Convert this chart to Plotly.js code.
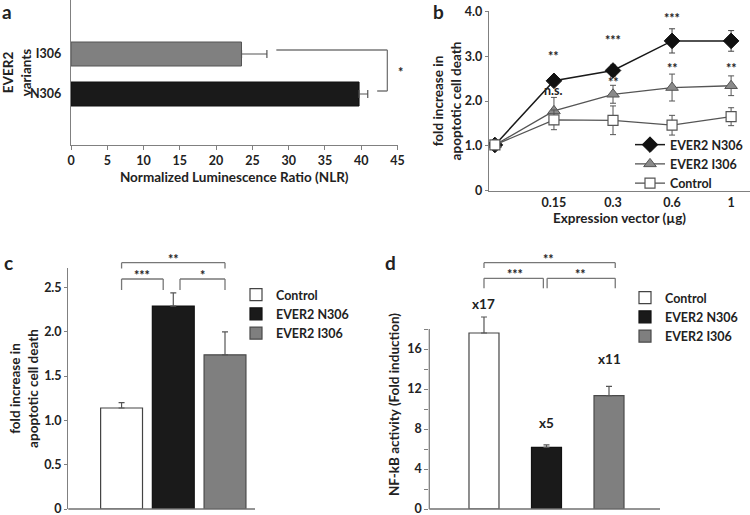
<!DOCTYPE html>
<html>
<head>
<meta charset="utf-8">
<script src="https://cdn.plot.ly/plotly-3.0.1.min.js"></script>
<style>
  body { margin: 0; background: #fff; }
  #fig { width: 750px; height: 515px; }
</style>
</head>
<body>
<div id="fig"></div>
<script>
// --- panel a: luminescence ratio
const variants = ["N306", "I306"];
const nlr = [39.7, 23.5];
const nlrErr = [1.2, 3.5];

// --- panel b: dose response
const doses = ["0", "0.15", "0.3", "0.6", "1"];
const doseLabels = ["", "0.15", "0.3", "0.6", "1"];
const deathN306 = [1.02, 2.45, 2.68, 3.34, 3.34];
const errN306 = [0.05, 0.1, 0.12, 0.27, 0.23];
const deathI306 = [1.02, 1.78, 2.15, 2.3, 2.34];
const errI306 = [0.05, 0.3, 0.2, 0.3, 0.22];
const deathCtrl = [1.02, 1.58, 1.57, 1.46, 1.65];
const errCtrl = [0.05, 0.22, 0.32, 0.22, 0.2];
const sigN306 = ["", "**", "***", "***", "***"];
const sigI306 = ["", "n.s.", "**", "**", "**"];

// --- panels c and d
const groups = ["Control", "EVER2 N306", "EVER2 I306"];
const deathC = [1.14, 2.29, 1.74];
const deathCErr = [0.06, 0.15, 0.26];
const nfkb = [17.6, 6.17, 11.33];
const nfkbErr = [1.6, 0.25, 0.93];
const foldLabels = ["x17", "x5", "x11"];

const fillCol = ["#ffffff", "#1a1a1a", "#7f7f7f"];
const edgeCol = ["#444444", "#111111", "#4a4a4a"];

const FONT = "Lato, 'Open Sans', sans-serif";
const txt = "#222";
const axCol = "#808080";

const traces = [];

// a
traces.push({
  type: "bar", orientation: "h", y: variants, x: nlr,
  xaxis: "x", yaxis: "y", width: 0.6, showlegend: false,
  marker: { color: ["#1a1a1a", "#808080"], line: { color: ["#111", "#555"], width: 1 } },
  error_x: { type: "data", symmetric: false, array: nlrErr, arrayminus: [0, 0], color: "#555", thickness: 1.2, width: 4 }
});

// b
traces.push({
  type: "scatter", mode: "lines+markers", x: doses, y: deathN306, name: "EVER2 N306",
  xaxis: "x2", yaxis: "y2", legend: "legend",
  line: { color: "#1a1a1a", width: 1.5 },
  marker: { symbol: "diamond", size: 12, color: "#111", line: { color: "#111", width: 1 } },
  error_y: { type: "data", array: errN306, color: "#444", thickness: 1, width: 3 }
});
traces.push({
  type: "scatter", mode: "lines+markers", x: doses, y: deathI306, name: "EVER2 I306",
  xaxis: "x2", yaxis: "y2", legend: "legend",
  line: { color: "#555", width: 1.3 },
  marker: { symbol: "triangle-up", size: 11, color: "#8a8a8a", line: { color: "#555", width: 1 } },
  error_y: { type: "data", array: errI306, color: "#555", thickness: 1, width: 3 }
});
traces.push({
  type: "scatter", mode: "lines+markers", x: doses, y: deathCtrl, name: "Control",
  xaxis: "x2", yaxis: "y2", legend: "legend",
  line: { color: "#555", width: 1.3 },
  marker: { symbol: "square", size: 10, color: "#fff", line: { color: "#555", width: 1.2 } },
  error_y: { type: "data", array: errCtrl, color: "#555", thickness: 1, width: 3 }
});

// c and d
groups.forEach((g, i) => {
  traces.push({
    type: "bar", x: [g], y: [deathC[i]], name: g, xaxis: "x3", yaxis: "y3", legend: "legend2",
    width: 0.81, marker: { color: fillCol[i], line: { color: edgeCol[i], width: 1.2 } },
    error_y: { type: "data", symmetric: false, array: [deathCErr[i]], arrayminus: [0], color: "#555", thickness: 1.2, width: 3 }
  });
});
groups.forEach((g, i) => {
  traces.push({
    type: "bar", x: [g], y: [nfkb[i]], name: g, xaxis: "x4", yaxis: "y4", legend: "legend3",
    width: 0.48,
    marker: { color: fillCol[i], line: { color: edgeCol[i], width: 1.2 } },
    error_y: { type: "data", symmetric: false, array: [nfkbErr[i]], arrayminus: [0], color: "#555", thickness: 1.2, width: 3 }
  });
});

const tf = { family: FONT, size: 12.5, color: txt, weight: "bold" };
const ttl = { family: FONT, size: 13.5, color: txt, weight: "bold" };
const baseAx = {
  showline: true, linecolor: axCol, linewidth: 1.2, showgrid: false, zeroline: false,
  tickcolor: axCol, tickfont: tf, fixedrange: true, ticklabeloverflow: "allow"
};

function line(xref, yref, x0, y0, x1, y1, col) {
  return { type: "line", xref: xref, yref: yref, x0: x0, y0: y0, x1: x1, y1: y1,
           line: { color: col || "#777", width: 1.3 } };
}
function bracket(xref, xa, xb, yTop, yBot) {
  return [line(xref, "paper", xa, 1 - yTop / 515, xb, 1 - yTop / 515),
          line(xref, "paper", xa, 1 - yTop / 515, xa, 1 - yBot / 515),
          line(xref, "paper", xb, 1 - yTop / 515, xb, 1 - yBot / 515)];
}
function note(xref, yref, x, y, text, size, extra) {
  return Object.assign({ xref: xref, yref: yref, x: x, y: y, text: text, showarrow: false,
    xanchor: "center", yanchor: "middle",
    font: { family: FONT, size: size, color: txt, weight: "bold" } }, extra || {});
}
// asterisks sit high in the text box
const star = { yshift: -3 };

const shapes = [
  // a: significance bracket
  line("x", "y", 28.3, 1.1, 43.6, 1.1),
  line("x", "y", 43.6, 1.1, 43.6, 0.075),
  line("x", "y", 42.2, 0.075, 43.6, 0.075),
  // c: x axis line and brackets (bracket heights in pixels from the top)
  line("x3 domain", "y3 domain", 0, 0, 1, 0, "#707070"),
  ...bracket("x3", 0, 2, 262.7, 268.5),
  ...bracket("x3", 0, 0.805, 279, 290),
  ...bracket("x3", 1.13, 2, 279, 290),
  // d: axis lines (y stops at 18, the error bar above it stays visible)
  line("x4 domain", "y4 domain", 0, 0, 1, 0, "#707070"),
  line("x4 domain", "y4", 0, 0, 0, 18, axCol),
  ...bracket("x4", 0, 2.1, 262.7, 268),
  ...bracket("x4", 0, 0.95, 278.3, 288.3),
  ...bracket("x4", 1.01, 2.1, 278.3, 288.3)
];

const sigNy = [0, 3.07, 3.41, 3.9, 4.1];
const sigIy = [0, 2.24, 2.47, 2.79, 2.79];
const py = v => 1 - v / 515;
const annotations = [
  note("paper", "paper", 7 / 750, py(12), "a", 19),
  note("paper", "paper", 438 / 750, py(12), "b", 19),
  note("paper", "paper", 8 / 750, py(262), "c", 19),
  note("paper", "paper", 390 / 750, py(262), "d", 19),
  note("x domain", "y", 1.01, 0.62, "*", 12.5, star),
  // c stars
  note("x3", "paper", 1, py(256.7), "**", 12.5, star),
  note("x3", "paper", 0.4, py(272.7), "***", 12.5, star),
  note("x3", "paper", 1.56, py(272.7), "*", 12.5, star),
  // d stars
  note("x4", "paper", 1.03, py(256.7), "**", 12.5, star),
  note("x4", "paper", 0.5, py(271.7), "***", 12.5, star),
  note("x4", "paper", 1.55, py(271.7), "**", 12.5, star)
];
doses.forEach((d, i) => {
  if (sigN306[i]) annotations.push(note("x2", "y2", i, sigNy[i], sigN306[i], 12.5, star));
  if (sigI306[i]) annotations.push(note("x2", "y2", i, sigIy[i], sigI306[i], 12.5,
                                        sigI306[i] === "n.s." ? {} : star));
});
// fold labels above the NF-kB bars
const foldY = [20.5, 8.6, 15];
groups.forEach((g, i) => {
  annotations.push(note("x4", "y4", i, foldY[i], foldLabels[i], 13.5));
});

const legFont = { family: FONT, size: 12.5, color: txt, weight: "bold" };

const layout = {
  width: 750, height: 515,
  margin: { l: 0, r: 0, t: 0, b: 0, autoexpand: false },
  paper_bgcolor: "#fff", plot_bgcolor: "rgba(0,0,0,0)",
  font: { family: FONT, color: txt },
  barmode: "overlay",
  xaxis: Object.assign({}, baseAx, {
    domain: [71 / 750, 397.5 / 750], anchor: "y", range: [0, 45], dtick: 5,
    ticks: "outside", ticklen: 4,
    title: { text: "Normalized Luminescence Ratio (NLR)", font: ttl, standoff: 5 }
  }),
  yaxis: Object.assign({}, baseAx, {
    domain: [1 - 145 / 515, 1], anchor: "x", type: "category", categoryarray: variants,
    range: [-1.275, 2.35], ticks: "", ticklabelstandoff: 6,
    title: { text: "EVER2<br>variants", font: ttl, standoff: 6 }
  }),
  xaxis2: Object.assign({}, baseAx, {
    domain: [489 / 750, 1], anchor: "y2", type: "category", categoryarray: doses,
    range: [-0.1, 4.32], tickvals: doses, ticktext: doseLabels, ticks: "",
    title: { text: "Expression vector (µg)", font: ttl, standoff: 0 }
  }),
  yaxis2: Object.assign({}, baseAx, {
    domain: [1 - 190.7 / 515, 1 - 11.3 / 515], anchor: "x2", range: [0, 4],
    tickvals: [0, 1, 2, 3, 4], ticktext: ["0", "1.0", "2.0", "3.0", "4.0"],
    ticks: "outside", ticklen: 3,
    title: { text: "fold increase in<br>apoptotic cell death", font: ttl, standoff: 0 }
  }),
  xaxis3: Object.assign({}, baseAx, {
    domain: [68.3 / 750, 255 / 750], anchor: "y3", type: "category", categoryarray: groups,
    range: [-1.03, 2.58], showticklabels: false, ticks: "", showline: false
  }),
  yaxis3: Object.assign({}, baseAx, {
    domain: [6 / 515, 1 - 268 / 515], anchor: "x3", range: [0, 2.72],
    tickvals: [0, 0.5, 1, 1.5, 2, 2.5], ticktext: ["0", "0.5", "1.0", "1.5", "2.0", "2.5"],
    ticks: "outside", ticklen: 3,
    title: { text: "fold increase in<br>apoptotic cell death", font: ttl, standoff: 2 }
  }),
  xaxis4: Object.assign({}, baseAx, {
    domain: [429.3 / 750, 660 / 750], anchor: "y4", type: "category", categoryarray: groups,
    range: [-0.875, 2.816], showticklabels: false, ticks: "", showline: false
  }),
  yaxis4: Object.assign({}, baseAx, {
    domain: [6 / 515, 1 - 300 / 515], anchor: "x4", range: [0, 20.9], showline: false,
    tickvals: [0, 4, 8, 12, 16], ticks: "outside", ticklen: 4,
    minor: { tickvals: [2, 6, 10, 14, 18], ticks: "outside", ticklen: 4, tickcolor: axCol },
    title: { text: "NF-kB activity (Fold induction)", font: ttl, standoff: 4 }
  }),
  legend: { x: 630 / 750, y: 1 - 130 / 515, xanchor: "left", yanchor: "top",
            bgcolor: "rgba(0,0,0,0)", font: legFont, itemwidth: 30, tracegroupgap: 0 },
  legend2: { x: 236 / 750, y: 1 - 280 / 515, xanchor: "left", yanchor: "top",
             bgcolor: "rgba(0,0,0,0)", font: legFont, itemwidth: 30 },
  legend3: { x: 625 / 750, y: 1 - 283 / 515, xanchor: "left", yanchor: "top",
             bgcolor: "rgba(0,0,0,0)", font: legFont, itemwidth: 30 },
  shapes: shapes,
  annotations: annotations
};

Plotly.newPlot("fig", traces, layout, { displayModeBar: false, staticPlot: true });
</script>
</body>
</html>
